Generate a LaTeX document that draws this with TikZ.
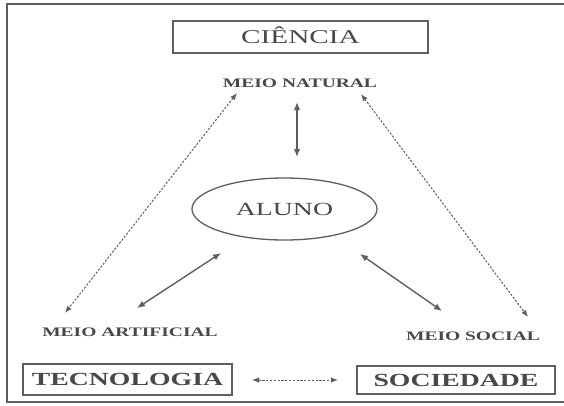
\documentclass[tikz,border=0pt]{standalone}
\usepackage{fontspec}
\setmainfont{Liberation Serif}
\newfontfamily\widefont[FakeStretch=1.5]{Liberation Serif}
\usetikzlibrary{arrows.meta,shapes.geometric}
\definecolor{ink}{RGB}{72,72,72}
\definecolor{edgec}{RGB}{95,95,95}
\begin{document}
\begin{tikzpicture}[x=1pt,y=-1pt,
  frameline/.style={draw=edgec,line width=1.4pt},
  boxnode/.style={draw=edgec,line width=1.3pt,rectangle,inner sep=0pt,text=ink,font=\widefont},
  lbl/.style={inner sep=0pt,text=ink,font=\widefont\bfseries\fontsize{13}{14}\selectfont,anchor=base},
  solidarrow/.style={draw=edgec,line width=1.4pt,{Latex[length=8pt,width=6.5pt]}-{Latex[length=8pt,width=6.5pt]}},
  dotarrow/.style={draw=edgec,line width=1pt,dash pattern=on 2.2pt off 1.6pt,{Latex[length=7pt,width=5.5pt]}-{Latex[length=7pt,width=5.5pt]}}
]
\useasboundingbox (0,0) rectangle (564,405);
\fill[white] (0,0) rectangle (564,405);
\draw[frameline] (566,4) -- (7,4) -- (7,402) -- (566,402);

\node[boxnode,minimum width=255pt,minimum height=32pt,text height=12.9pt,text depth=0pt] (cien) at (300.5,37) {\fontsize{19.5}{20}\selectfont CIÊNCIA};
\node[lbl] (nat) at (300,87) {MEIO NATURAL};
\node[boxnode,ellipse,minimum width=185pt,minimum height=62pt,text height=12.2pt,text depth=0pt] (aluno) at (284.5,209) {\fontsize{18.5}{19}\selectfont ALUNO};
\node[lbl] (art) at (130,336) {MEIO ARTIFICIAL};
\node[lbl] (soc) at (473,340) {MEIO SOCIAL};
\node[boxnode,minimum width=209pt,minimum height=31pt,text height=12.3pt,text depth=0pt] (tec) at (127.5,379.5) {\bfseries\fontsize{18.5}{19}\selectfont TECNOLOGIA};
\node[boxnode,minimum width=198pt,minimum height=28pt,text height=12.3pt,text depth=0pt] (socd) at (456,380) {\bfseries\fontsize{18.5}{19}\selectfont SOCIEDADE};

\coordinate (dl1) at (237,93);
\coordinate (dl2) at (65,313);
\coordinate (v1) at (297,102);
\coordinate (v2) at (297,157);
\coordinate (dr1) at (361,94);
\coordinate (dr2) at (528,317);
\coordinate (sl1) at (221,253);
\coordinate (sl2) at (137,308);
\coordinate (sr1) at (360,254);
\coordinate (sr2) at (442,311);
\coordinate (h1) at (252,380);
\coordinate (h2) at (338,380);

\draw[dotarrow] (dl1) -- (dl2);
\draw[dotarrow] (dr1) -- (dr2);
\draw[solidarrow] (v1) -- (v2);
\draw[solidarrow] (sl1) -- (sl2);
\draw[solidarrow] (sr1) -- (sr2);
\draw[dotarrow] (h1) -- (h2);
\end{tikzpicture}
\end{document}
